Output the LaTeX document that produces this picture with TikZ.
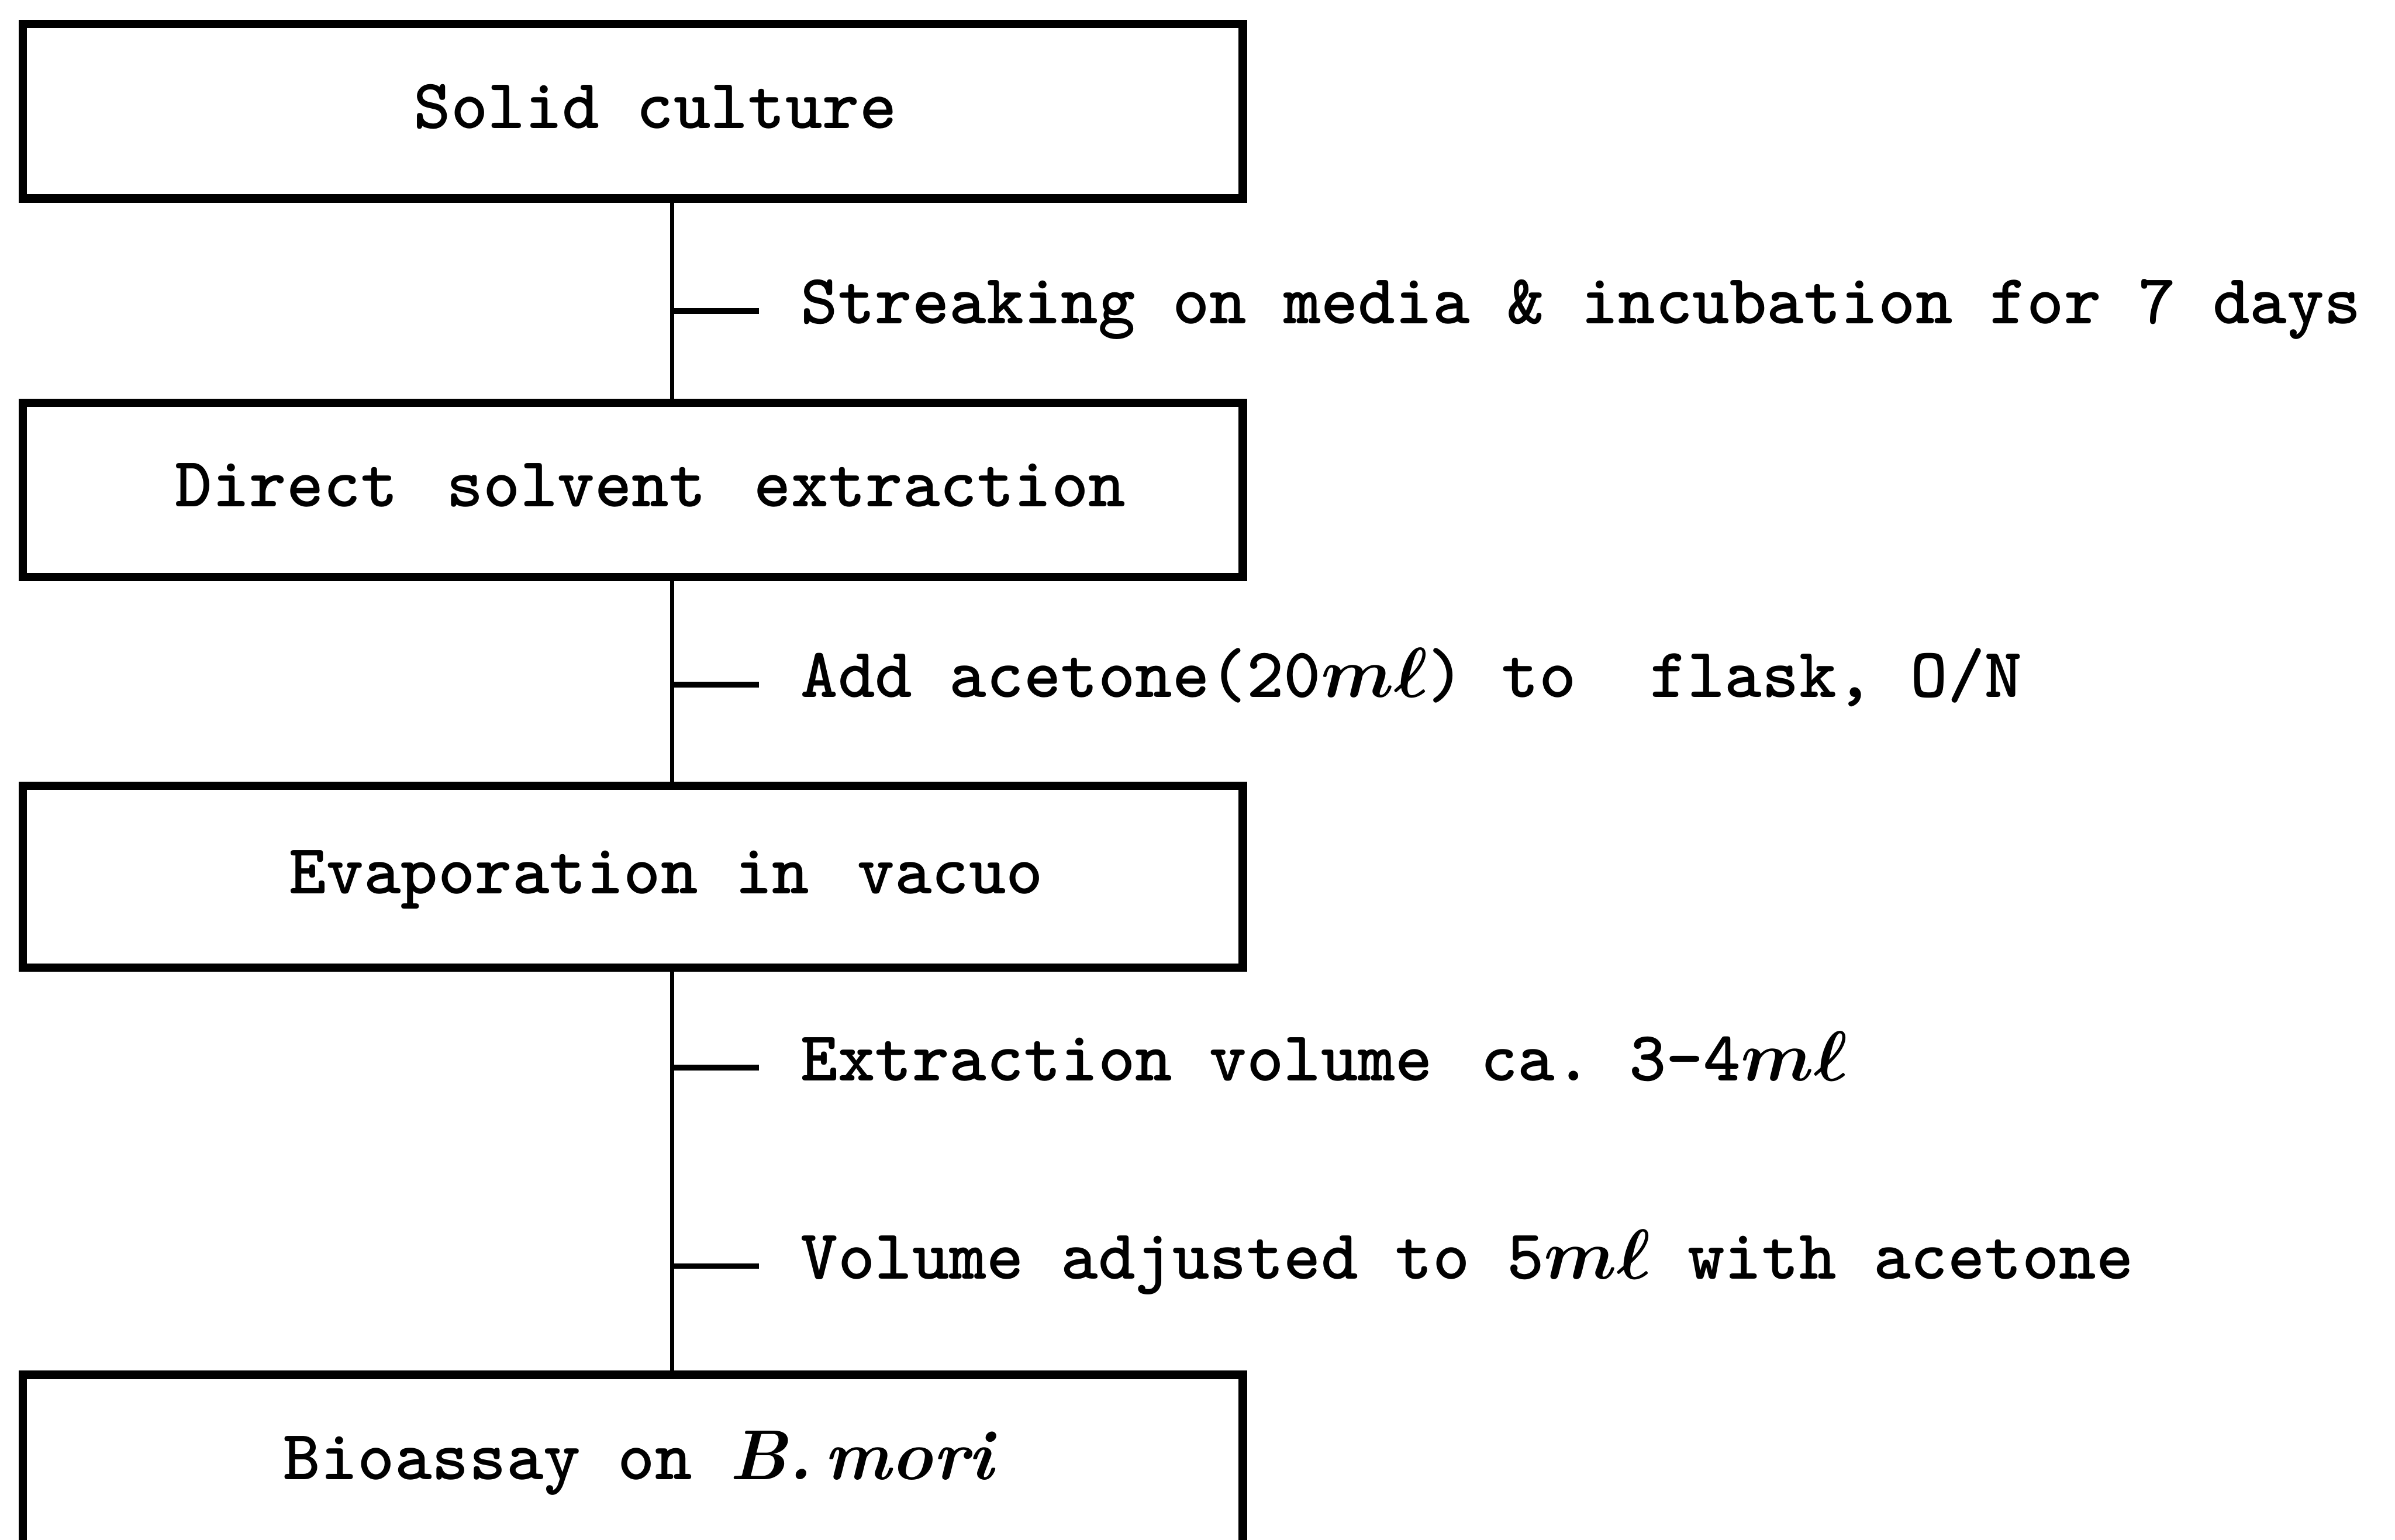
\RequirePackage{fix-cm}
\documentclass[tikz,border=0pt]{standalone}
\usetikzlibrary{positioning}
\newcommand{\flowfont}{\fontsize{36}{40}\selectfont\ttfamily\bfseries}
\newcommand{\mlunit}{{\boldmath$m\ell$}}
\newcommand{\wsp}{\hspace{0.68em}}
\tikzset{
  stepBox/.style={draw, line width=4.3pt, minimum width=21.81cm, minimum height=3.12cm, inner sep=0pt, align=center, text height=0.8cm, text depth=0.2cm, font=\flowfont},
  noteText/.style={inner xsep=0pt, inner ysep=0pt, outer xsep=0.75cm, text height=0.78cm, text depth=0.32cm, font=\flowfont},
  spineEdge/.style={line width=2pt},
  tickEdge/.style={line width=2.8pt}
}

\begin{document}
\begin{tikzpicture}
  \useasboundingbox (0,0) rectangle (42.82,-27.53);

  \node[stepBox] (culture) at (11.315,-1.99) {\hspace*{0.8cm}Solid culture};
  \node[stepBox] (extract) at (11.315,-8.76) {\hspace*{0.63cm}Direct\wsp solvent\wsp extraction};
  \node[stepBox, minimum height=3.25cm] (evap) at (11.315,-15.675) {\hspace*{1.2cm}Evaporation in\wsp vacuo};
  \node[stepBox, minimum height=3.15cm] (assay) at (11.315,-26.155)
    {\hspace*{0.2cm}Bioassay on {\rmfamily\itshape B.\,mori}};

  \coordinate (t1) at (12.02,-5.56);
  \coordinate (t2) at (12.02,-12.24);
  \coordinate (t3) at (12.02,-19.09);
  \coordinate (t4) at (12.02,-22.64);

  \node[noteText, right=1.55cm of t1] (n1) {Streaking on media \& incubation for 7 days};
  \node[noteText, right=1.55cm of t2] (n2) {Add acetone(20\mlunit) to\ \ flask, O/N};
  \node[noteText, right=1.55cm of t3] (n3) {Extraction volume\wsp ca.\ 3-4\mlunit};
  \node[noteText, right=1.55cm of t4] (n4) {Volume adjusted to 5\mlunit{} with acetone};

  \draw[spineEdge] (culture.south -| t1) -- (extract.north -| t1);
  \draw[spineEdge] (extract.south -| t2) -- (evap.north -| t2);
  \draw[spineEdge] (evap.south -| t3) -- (assay.north -| t3);

  \draw[tickEdge] (t1) -- (n1);
  \draw[tickEdge] (t2) -- (n2);
  \draw[tickEdge] (t3) -- (n3);
  \draw[tickEdge] (t4) -- (n4);
\end{tikzpicture}
\end{document}
